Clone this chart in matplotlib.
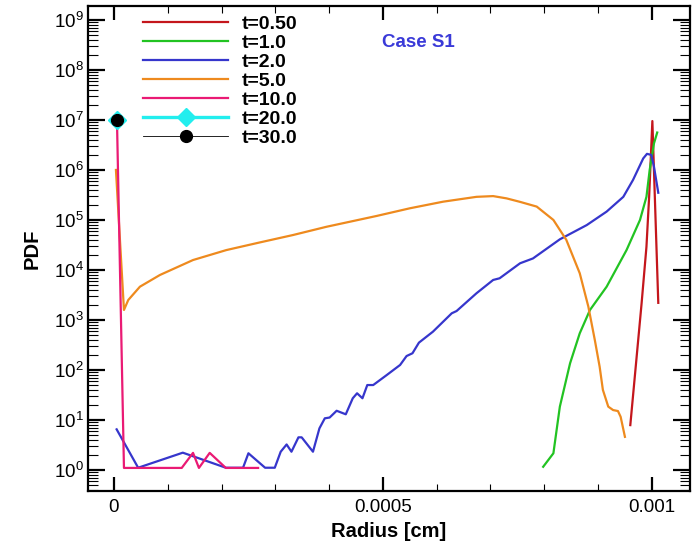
import numpy as np
import matplotlib
matplotlib.use('Agg')
import matplotlib.pyplot as plt
from matplotlib.ticker import LogLocator, MultipleLocator, NullFormatter, FixedLocator

plt.rcParams['font.family'] = ['Liberation Sans', 'DejaVu Sans']

# values, radius in cm
r_050 = [0.000960, 0.000981, 0.000990, 0.000995, 0.001001, 0.001012]
p_050 = [7.9, 2160, 2.9e4, 2.9e5, 9.5e6, 2200]

r_1 = [0.000798, 0.000817, 0.000829, 0.000848, 0.000866, 0.000885, 0.000916,
       0.000953, 0.000978, 0.000990, 0.000996, 0.001004, 0.001010]
p_1 = [1.16, 2.16, 18.5, 136, 542, 1585, 4630, 2.5e4, 1e5, 2.9e5, 1e6, 3.4e6, 5.6e6]

r_2 = [0.000005, 0.000045, 0.000128, 0.000208, 0.000240, 0.000250, 0.000281,
       0.000299, 0.000310, 0.000321, 0.000330, 0.000343, 0.000349, 0.000370,
       0.000382, 0.000392, 0.000401, 0.000414, 0.000431, 0.000444, 0.000452,
       0.000462, 0.000471, 0.000482, 0.000507, 0.000532, 0.000544, 0.000555,
       0.000567, 0.000593, 0.000628, 0.000637, 0.000674, 0.000705, 0.000717,
       0.000755, 0.000779, 0.000829, 0.000879, 0.000916, 0.000947, 0.000965,
       0.000984, 0.000991, 0.000999, 0.001004, 0.001012]
p_2 = [6.5, 1.11, 2.22, 1.11, 1.11, 2.16, 1.11,
       1.11, 2.32, 3.24, 2.32, 4.5, 4.5, 2.32,
       6.8, 10.8, 11.2, 15.3, 13, 27.2, 34.2,
       27.2, 50, 50, 79, 126, 190, 216,
       352, 583, 1360, 1510, 3420, 6310, 6820,
       1.36e4, 1.7e4, 4.1e4, 7.9e4, 1.47e5, 2.9e5, 6.3e5,
       1.7e6, 2.1e6, 2.0e6, 1.16e6, 3.5e5]

r_5 = [0.0000037, 0.0000186, 0.0000266, 0.0000483, 0.0000855, 0.000147, 0.000209,
       0.000271, 0.000333, 0.000395, 0.000488, 0.000550, 0.000612, 0.000674,
       0.000705, 0.000730, 0.000755, 0.000786, 0.000817, 0.000841, 0.000866,
       0.000882, 0.000894, 0.000903, 0.000909, 0.000919, 0.000928, 0.000937,
       0.000942, 0.000950]
p_5 = [1e6, 1585, 2510, 4630, 7940, 1.58e4, 2.5e4,
       3.55e4, 5e4, 7.3e4, 1.2e5, 1.71e5, 2.32e5, 2.9e5,
       3.0e5, 2.7e5, 2.3e5, 1.85e5, 1e5, 4e4, 8590,
       1845, 398, 116, 40, 18.5, 15.8, 15.1,
       11.6, 4.6]

r_10 = [0.0000056, 0.0000186, 0.000126, 0.000147, 0.000158, 0.000178, 0.000208, 0.000268]
p_10 = [1e7, 1.1, 1.1, 2.2, 1.1, 2.2, 1.1, 1.1]

r_20 = [0.0000050]
p_20 = [1e7]
r_30 = [0.0000050]
p_30 = [1e7]

y_major = [1e0, 1e1, 1e2, 1e3, 1e4, 1e5, 1e6, 1e7, 1e8, 1e9]
x_major = [0, 0.0005, 0.001]
x_labels = ['0', '0.0005', '0.001']

fig = plt.figure(figsize=(6.96, 5.44), dpi=100)
ax = fig.add_axes([0.1264, 0.0974, 0.8650, 0.8916])

ax.plot(r_050, p_050, color='#c4161c', lw=1.6, label='t=0.50')
ax.plot(r_1, p_1, color='#22c322', lw=1.6, label='t=1.0')
ax.plot(r_2, p_2, color='#3636cc', lw=1.6, label='t=2.0')
ax.plot(r_5, p_5, color='#ee8a1e', lw=1.6, label='t=5.0')
ax.plot(r_10, p_10, color='#ea1a74', lw=1.6, label='t=10.0')
ax.plot(r_20, p_20, color='#22eeee', lw=2.4, marker='D', ms=9, label='t=20.0')
ax.plot(r_30, p_30, color='black', lw=0.6, marker='o', ms=8.5, label='t=30.0')

ax.set_yscale('log')
ax.set_xlim(-0.0000483, 0.001071)
ax.set_ylim(0.38, 1.9e9)

ax.xaxis.set_minor_locator(MultipleLocator(0.0001))
ax.set_xticks(x_major)
ax.set_xticklabels(x_labels)
ax.yaxis.set_major_locator(FixedLocator(y_major))
ax.yaxis.set_minor_locator(LogLocator(base=10, subs=np.arange(2, 10), numticks=20))
ax.yaxis.set_minor_formatter(NullFormatter())

ax.tick_params(which='both', direction='in', top=True, right=True, labelsize=13.5)
ax.tick_params(which='major', length=10, width=1.6)
ax.tick_params(which='minor', length=5, width=0.8)
ax.tick_params(axis='y', which='major', length=12, pad=3)
ax.tick_params(axis='y', which='minor', length=7)
ax.tick_params(axis='x', pad=6)
for sp in ax.spines.values():
    sp.set_linewidth(1.6)

ax.set_xlabel('Radius [cm]', fontsize=14.5, fontweight='bold', labelpad=4)
ax.set_ylabel('PDF', fontsize=14.5, fontweight='bold', labelpad=9)

ax.text(0.488, 0.9238, 'Case S1', transform=ax.transAxes, color='#3a3ad8',
        fontsize=13.5, fontweight='bold', va='center', ha='left')

leg = ax.legend(loc='upper left', bbox_to_anchor=(0.0914, 0.980), frameon=False,
                borderaxespad=0, borderpad=0, handlelength=4.38, handletextpad=0.72,
                labelspacing=0.07, prop={'size': 14, 'weight': 'bold'})

plt.savefig('out.png', dpi=100)
